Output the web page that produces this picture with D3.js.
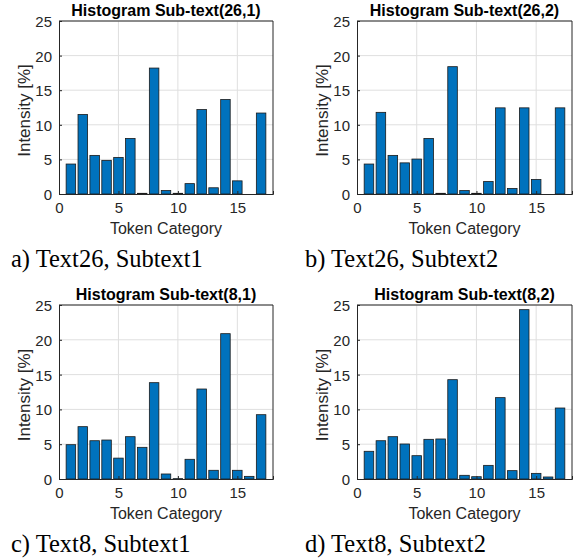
<!DOCTYPE html>
<html><head><meta charset="utf-8">
<script src="https://cdn.jsdelivr.net/npm/d3@7"></script>
<style>body{margin:0;background:#fff}svg{display:block}</style>
</head><body>
<script>
const categories = [1,2,3,4,5,6,7,8,9,10,11,12,13,14,15,16,17];
const valuesA = [4.33,11.49,5.58,4.86,5.29,8.03,0.1,18.2,0.5,0.1,1.5,12.2,0.9,13.65,1.9,0,11.7];
const valuesB = [4.33,11.8,5.58,4.5,5.05,8.03,0.1,18.4,0.5,0.1,1.8,12.45,0.8,12.45,2.1,0,12.45];
const valuesC = [4.93,7.52,5.5,5.6,3.0,6.08,4.55,13.84,0.72,0.05,2.83,12.93,1.25,20.88,1.25,0.38,9.24];
const valuesD = [3.98,5.5,6.08,5.03,3.35,5.7,5.75,14.27,0.53,0.33,1.96,11.69,1.2,24.33,0.81,0.29,10.2];
const titles = ["Histogram Sub-text(26,1)","Histogram Sub-text(26,2)","Histogram Sub-text(8,1)","Histogram Sub-text(8,2)"];
const captions = ["a) Text26, Subtext1","b) Text26, Subtext2","c) Text8, Subtext1","d) Text8, Subtext2"];
const xTicks = [0,5,10,15];
const yTicks = [0,5,10,15,20,25];
const xLabel = "Token Category";
const yLabel = "Intensity [%]";
const allValues = [valuesA, valuesB, valuesC, valuesD];

const W = 576, H = 560;
const svg = d3.select("body").append("svg").attr("width", W).attr("height", H);
const font = "'Liberation Sans', Arial, sans-serif";
const serif = "'Liberation Serif', 'Times New Roman', serif";
const axisColor = "#262626";

const boxes = [
  {left:59, top:21, right:273, bottom:194, capX:11},
  {left:357, top:21, right:572, bottom:194, capX:305},
  {left:59, top:305, right:273, bottom:479, capX:11},
  {left:357, top:305, right:572, bottom:479, capX:305}
];

boxes.forEach((b, i) => {
  const vals = allValues[i];
  const x = d3.scaleLinear().domain([0,18]).range([b.left, b.right]);
  const y = d3.scaleLinear().domain([0,25]).range([b.bottom, b.top]);
  const g = svg.append("g");
  // grid
  g.selectAll(".gx").data(xTicks.filter(t => t>0)).join("line")
    .attr("x1", d=>x(d)).attr("x2", d=>x(d)).attr("y1", b.top).attr("y2", b.bottom)
    .attr("stroke", "#dfdfdf").attr("stroke-width", 1);
  g.selectAll(".gy").data(yTicks.filter(t => t>0)).join("line")
    .attr("y1", d=>y(d)).attr("y2", d=>y(d)).attr("x1", b.left).attr("x2", b.right)
    .attr("stroke", "#dfdfdf").attr("stroke-width", 1);
  // bars
  const bw = 0.8;
  g.selectAll("rect.bar").data(categories.map((c,j)=>({c, v: vals[j]}))).join("rect")
    .attr("x", d => x(d.c - bw/2)).attr("width", d => x(d.c + bw/2) - x(d.c - bw/2))
    .attr("y", d => y(d.v)).attr("height", d => y(0) - y(d.v))
    .attr("fill", "#0072BD").attr("stroke", "#1a1a1a").attr("stroke-width", 0.8);
  // axes
  const ax = d3.axisBottom(x).tickValues(xTicks).tickSize(-3);
  const ay = d3.axisLeft(y).tickValues(yTicks).tickSize(-3);
  const gx = g.append("g").attr("transform", `translate(0,${b.bottom})`).call(ax);
  const gy = g.append("g").attr("transform", `translate(${b.left},0)`).call(ay);
  gx.selectAll(".tick text").attr("y", 19).attr("dy", 0);
  gy.selectAll(".tick text").attr("x", -7).attr("dy", "0.36em");
  [gx, gy].forEach(a => {
    a.select(".domain").attr("stroke", axisColor);
    a.selectAll(".tick line").attr("stroke", axisColor);
    a.selectAll("text").attr("fill", axisColor).style("font-family", font).style("font-size", "15px");
  });
  // top and right box lines
  g.append("line").attr("x1", b.left).attr("x2", b.right).attr("y1", b.top).attr("y2", b.top).attr("stroke", axisColor);
  g.append("line").attr("x1", b.right).attr("x2", b.right).attr("y1", b.top).attr("y2", b.bottom).attr("stroke", axisColor);
  // title
  g.append("text").attr("x", (b.left+b.right)/2).attr("y", b.top - 5)
    .attr("text-anchor", "middle").style("font-family", font).style("font-weight", "bold")
    .style("font-size", "16px").attr("fill", "#000").text(titles[i]);
  // x label
  g.append("text").attr("x", (b.left+b.right)/2).attr("y", b.bottom + 40)
    .attr("text-anchor", "middle").style("font-family", font).style("font-size", "16px")
    .attr("fill", axisColor).text(xLabel);
  // y label
  g.append("text").attr("transform", `translate(${b.left - 29},${(b.top+b.bottom)/2 + 3}) rotate(-90)`)
    .attr("text-anchor", "middle").style("font-family", font).style("font-size", "17px")
    .attr("fill", axisColor).text(yLabel);
  // caption
  g.append("text").attr("x", b.capX).attr("y", b.bottom + 73)
    .style("font-family", serif).style("font-size", "24.5px").attr("fill", "#000").text(captions[i]);
});
</script>
</body></html>
